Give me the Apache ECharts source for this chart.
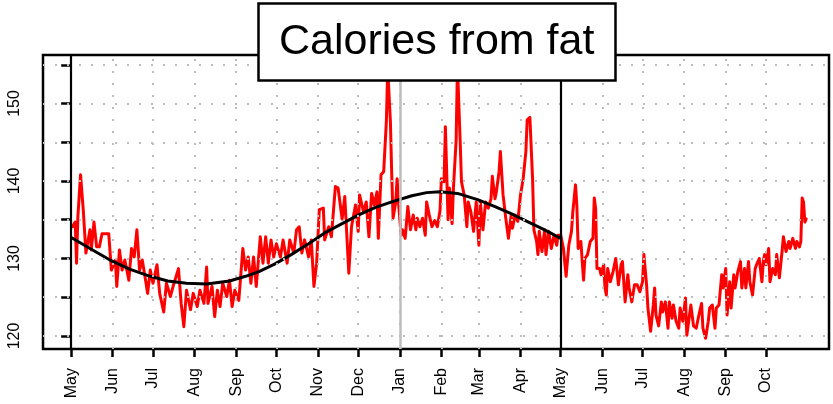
<!DOCTYPE html>
<html>
<head>
<meta charset="utf-8">
<script src="https://cdn.jsdelivr.net/npm/echarts@6/dist/echarts.min.js"></script>
<style>
html,body{margin:0;padding:0;background:#fff;}
#chart{width:833px;height:404px;}
</style>
</head>
<body>
<div id="chart"></div>
<script>
// Month tick labels and their day offsets (day 0 = 1 May, first year)
const monthLabels = ['May','Jun','Jul','Aug','Sep','Oct','Nov','Dec','Jan','Feb','Mar','Apr','May','Jun','Jul','Aug','Sep','Oct'];
const monthDays = [0,31,61,92,123,153,184,214,245,276,304,335,365,396,426,457,488,518];
const yTickValues = [120,125,130,135,140,145,150,155];
const yLabelValues = [120,130,140,150];

// Daily calories from fat, day offsets from 1 May
const dayIndex = [1,3,4,5,7,9,11,14,15,17,19,21,23,28,30,33,34,36,38,40,43,45,47,49,51,53,55,57,59,61,64,66,69,71,74,76,80,82,84,86,89,91,94,96,99,101,102,105,107,109,111,113,116,118,120,122,125,128,130,132,134,136,138,141,143,145,147,149,151,153,156,158,161,163,166,168,170,172,174,177,179,181,183,185,188,189,192,194,197,199,202,204,207,209,212,214,215,218,220,222,224,226,228,229,231,233,235,236,238,239,240,242,243,244,246,247,249,251,253,255,257,258,260,262,264,265,267,269,271,273,275,276,278,279,281,282,284,285,287,288,290,291,293,295,296,298,300,302,304,305,307,309,311,313,314,316,317,319,320,322,324,326,328,329,331,333,335,337,339,340,342,344,345,347,348,349,351,353,354,356,358,360,362,363,365,367,369,371,373,374,376,377,378,380,382,383,385,387,389,390,391,392,394,395,397,398,399,400,402,404,406,408,410,411,413,415,416,418,420,422,424,426,427,429,430,432,434,435,436,438,440,441,443,445,446,448,449,451,453,454,456,458,459,461,462,464,466,468,470,471,473,475,476,478,480,481,483,485,486,488,489,491,492,494,495,497,499,500,502,503,505,506,508,510,511,513,515,516,517,518,520,521,523,525,526,528,530,531,533,535,536,538,540,541,543,544,545,546,547,548];
const calories = [134.1,134.7,129.4,135.4,140.8,136.3,130.7,133.7,131.1,134.7,131.5,131.5,133.2,133.2,128.5,129.8,126.4,131.1,128.5,129.8,127.2,131.3,130.2,133.7,128.5,129.8,127.7,125.5,128.5,126.8,129.2,125.5,123.1,126.8,125.1,126.4,128.7,124.2,121.2,125.9,123.4,125.5,123.8,125.9,124.2,128.9,124.2,126.4,122.5,125.9,123.8,126.8,125.1,127.2,123.8,125.9,124.6,131.3,128.5,130.2,126.8,130.2,126.4,132.8,129.4,132.8,129.4,132.4,130.2,131.9,130.2,132.4,129.4,132.4,130.7,133.7,134.1,130.7,132.4,130.2,132.4,126.4,129.4,136.3,136.5,132.4,134.1,132.8,139.3,139.1,135.1,138.0,128.1,134.1,136.9,133.5,138.2,136.0,137.3,132.8,138.4,136.9,138.6,132.6,140.8,141.2,147.7,154.5,147.7,140.8,135.2,137.3,140.3,137.3,133.0,133.7,132.6,136.7,133.7,135.6,133.7,135.2,134.1,135.2,133.0,137.3,135.6,134.1,134.9,134.1,136.2,140.3,139.9,147.0,135.0,139.1,134.5,139.1,145.2,155.0,145.2,139.9,138.2,134.1,137.3,136.0,133.5,137.3,131.7,137.3,133.7,137.3,136.5,137.7,140.6,137.7,138.6,141.2,143.8,138.2,135.2,132.6,135.6,133.9,135.6,134.8,138.2,140.3,143.8,147.9,148.2,140.3,133.7,132.2,130.5,133.5,130.9,133.7,130.5,133.5,131.3,133.0,131.7,133.0,133.0,131.3,127.7,131.7,133.5,136.0,139.5,136.9,131.3,132.2,127.2,130.0,130.5,132.2,132.6,137.8,136.5,128.7,128.7,127.9,129.2,126.2,125.3,128.7,127.0,128.3,130.0,126.6,129.2,129.6,124.4,127.9,126.2,124.4,126.6,126.6,125.7,127.0,130.5,126.6,123.6,120.6,124.0,126.2,122.7,121.3,124.4,123.1,124.4,121.0,124.4,122.3,124.0,121.9,121.0,123.6,121.9,124.9,120.1,122.7,124.0,121.3,121.0,122.7,124.2,121.0,119.7,121.9,123.6,124.0,121.0,123.6,124.0,127.9,126.2,128.7,122.7,127.0,123.6,127.9,126.2,128.3,129.6,126.2,128.7,126.2,129.6,127.0,125.3,128.7,129.2,130.0,127.0,129.6,130.5,129.2,131.3,127.0,128.7,127.9,130.5,127.5,130.9,132.8,130.9,132.2,131.3,132.6,131.3,132.2,131.5,132.2,137.8,137.3,134.7,135.1];

// Smooth seasonal fit (black), May to May
const trendDays = [0,15,29,44,59,72,86,101,118,130,140,152,164,177,189,202,214,227,239,254,265,275,288,303,316,328,341,353,365];
const trendValues = [132.7,131.2,129.8,128.6,127.7,127.1,126.8,126.7,127.1,127.7,128.3,129.3,130.5,131.9,133.3,134.5,135.6,136.6,137.3,138.1,138.5,138.6,138.4,137.6,136.7,135.8,134.7,133.7,132.6];

const yearMarkers = [0, 365];
const janMarker = [245];

const redData = dayIndex.map((d, i) => [d, calories[i]]);
const trendData = trendDays.map((d, i) => [d, trendValues[i]]);

const dotted = {type: [2, 10], width: 2, color: '#bdbdbd'};
const FONT = 'Liberation Sans';

const chart = echarts.init(document.getElementById('chart'), null, {renderer: 'canvas'});
chart.setOption({
  animation: false,
  backgroundColor: '#fff',
  title: {
    text: 'Calories from fat',
    left: 258, top: 3,
    padding: [17, 21, 17, 21],
    backgroundColor: '#fff',
    borderColor: '#000',
    borderWidth: 2.5,
    textStyle: {fontSize: 43, fontWeight: 'normal', fontFamily: FONT, color: '#000', lineHeight: 44}
  },
  grid: {
    left: 43, right: 4, top: 55, bottom: 55,
    show: true, borderColor: '#000', borderWidth: 2.5, backgroundColor: 'transparent'
  },
  xAxis: {
    type: 'value', min: -21, max: 565,
    axisLine: {show: false},
    splitLine: {show: false},
    axisTick: {show: true, customValues: monthDays, length: 8, lineStyle: {color: '#000', width: 2.5}},
    axisLabel: {
      customValues: monthDays, rotate: 90, margin: 19,
      fontSize: 16, fontFamily: FONT, color: '#000',
      formatter: function (v) { const i = monthDays.indexOf(Math.round(v)); return i >= 0 ? monthLabels[i] : ''; }
    }
  },
  yAxis: {
    type: 'value', min: 118.32, max: 156.26,
    axisLine: {show: false},
    splitLine: {show: false},
    axisTick: {show: true, customValues: yTickValues, length: 10, lineStyle: {color: '#000', width: 2.5}},
    axisLabel: {customValues: yLabelValues, rotate: 90, margin: 20, fontSize: 16, fontFamily: FONT, color: '#000'}
  },
  series: [
    {
      type: 'line', data: [], silent: true, z: 1,
      markLine: {
        silent: true, symbol: 'none', label: {show: false}, animation: false,
        lineStyle: dotted,
        data: yTickValues.map(v => ({yAxis: v})).concat(monthDays.map(d => ({xAxis: d})))
      }
    },
    {
      type: 'line', data: [], silent: true, z: 2,
      markLine: {
        silent: true, symbol: 'none', label: {show: false}, animation: false,
        data: janMarker.map(d => ({xAxis: d, lineStyle: {color: '#bdbdbd', width: 2.5, type: 'solid'}}))
          .concat(yearMarkers.map(d => ({xAxis: d, lineStyle: {color: '#000', width: 2.2, type: 'solid'}})))
      }
    },
    {
      type: 'line', data: redData, showSymbol: false, z: 3,
      lineStyle: {color: '#ff0000', width: 3, join: 'round', cap: 'round'}
    },
    {
      type: 'line', data: trendData, showSymbol: false, smooth: false, z: 4,
      lineStyle: {color: '#000', width: 3, join: 'round'}
    }
  ]
});
</script>
</body>
</html>
